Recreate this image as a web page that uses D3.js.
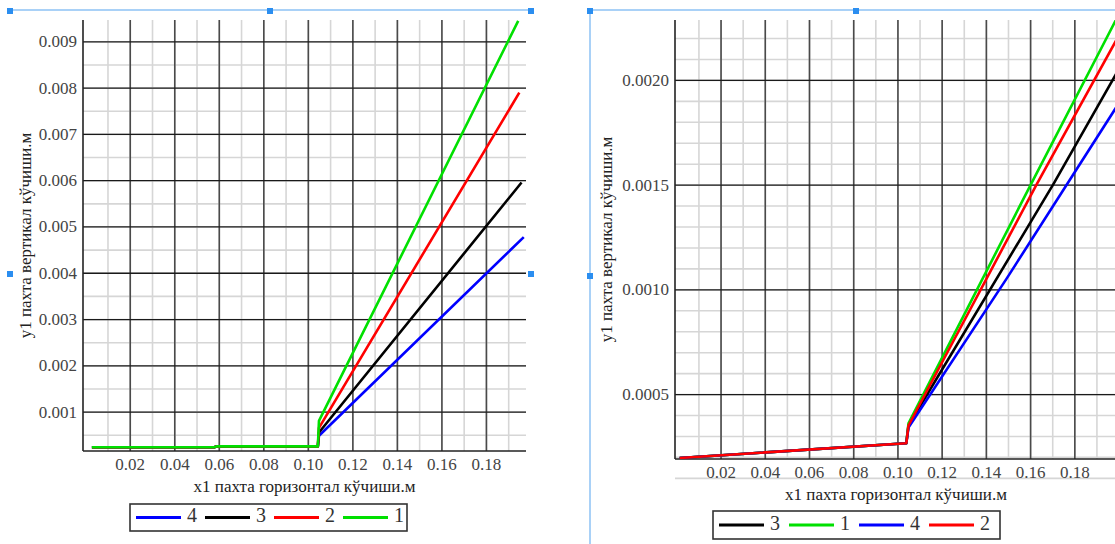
<!DOCTYPE html>
<html lang="ru">
<head>
<meta charset="UTF-8">
<title>y1 / x1 пахта кўчиши</title>
<script src="https://cdnjs.cloudflare.com/ajax/libs/d3/7.8.5/d3.min.js"></script>
<style>
    body { margin: 0; background: #fff; }
    svg { display: block; }
    svg text { font-family: "Liberation Serif", "DejaVu Serif", serif; }
</style>
</head>
<body>
<svg id="chart" width="1115" height="544"></svg>
<script>
// tick labels
const xTicks = [0.02, 0.04, 0.06, 0.08, 0.10, 0.12, 0.14, 0.16, 0.18];
const leftYTicks = [0.001, 0.002, 0.003, 0.004, 0.005, 0.006, 0.007, 0.008, 0.009];
const rightYTicks = [0.0005, 0.0010, 0.0015, 0.0020];

// series colours by legend name
const colors = { "1": "#00e000", "2": "#ff0000", "3": "#000000", "4": "#0000ff" };

// left chart, values: [x1, y1]
const left1 = [[0.003, 0.00023], [0.058, 0.00023], [0.059, 0.00025], [0.1045, 0.00025], [0.105, 0.0008], [0.1945, 0.00944]];
const left2 = [[0.003, 0.00023], [0.058, 0.00023], [0.059, 0.00025], [0.1045, 0.00025], [0.105, 0.00065], [0.195, 0.00789]];
const left3 = [[0.003, 0.00023], [0.058, 0.00023], [0.059, 0.00025], [0.1045, 0.00025], [0.105, 0.00055], [0.196, 0.00595]];
const left4 = [[0.003, 0.00023], [0.058, 0.00023], [0.059, 0.00025], [0.1045, 0.00025], [0.105, 0.00048], [0.197, 0.00477]];

// right chart
const right1 = [[0.0015, 0.000195], [0.104, 0.000265], [0.105, 0.00036], [0.1603, 0.0015], [0.199, 0.00229]];
const right2 = [[0.0015, 0.000195], [0.104, 0.000265], [0.105, 0.00035], [0.1629, 0.0015], [0.199, 0.00219]];
const right3 = [[0.0015, 0.000195], [0.104, 0.000265], [0.105, 0.00035], [0.1704, 0.0015], [0.199, 0.00203]];
const right4 = [[0.0015, 0.000195], [0.104, 0.000265], [0.105, 0.00034], [0.1493, 0.00105], [0.199, 0.00187]];

const xTitle = "x1 пахта горизонтал кўчиши.м";
const yTitle = "y1 пахта вертикал кўчиши.м";
const serif = "'Liberation Serif', 'DejaVu Serif', serif";

const svg = d3.select("#chart");
svg.append("rect").attr("width", 1115).attr("height", 544).attr("fill", "#fff");

function panel(p, id) {
    const x = d3.scaleLinear().domain(p.xDomain).range([p.left, p.right]);
    const y = d3.scaleLinear().domain(p.yDomain).range([p.bottom, p.top]);
    const w = p.right - p.left, h = p.bottom - p.top;
    const g = svg.append("g");

    const xMinor = d3.range(0.01, p.xDomain[1], 0.01);
    const yMinor = d3.range(p.yMinorStep, p.yDomain[1], p.yMinorStep);

    // light grid
    g.append("g").attr("transform", `translate(0,${p.bottom})`)
        .call(d3.axisBottom(x).tickValues(xMinor).tickSize(-h).tickFormat(""))
        .call(a => a.select(".domain").remove())
        .selectAll("line").attr("stroke", "#d6d6d6").attr("stroke-width", 1.6);
    g.append("g").attr("transform", `translate(${p.left},0)`)
        .call(d3.axisLeft(y).tickValues(yMinor).tickSize(-w).tickFormat(""))
        .call(a => a.select(".domain").remove())
        .selectAll("line").attr("stroke", "#d6d6d6").attr("stroke-width", 1.6);

    // main grid with labels
    const gx = g.append("g").attr("transform", `translate(0,${p.bottom})`)
        .call(d3.axisBottom(x).tickValues(xTicks).tickSize(-h).tickPadding(7).tickFormat(d3.format(".2f")))
        .call(a => a.select(".domain").remove());
    gx.selectAll("line").attr("stroke", "#4a4a4a").attr("stroke-width", 1.6);
    const gy = g.append("g").attr("transform", `translate(${p.left},0)`)
        .call(d3.axisLeft(y).tickValues(p.yTicks).tickSize(-w).tickPadding(6).tickFormat(d3.format(p.yFmt)))
        .call(a => a.select(".domain").remove());
    gy.selectAll("line").attr("stroke", "#1a1a1a").attr("stroke-width", 1.3);
    [gx, gy].forEach(a => a.attr("font-family", serif).attr("font-size", 17)
        .selectAll("text").attr("fill", "#444").attr("font-family", serif));

    // axis lines
    g.append("line").attr("x1", p.left).attr("x2", p.left).attr("y1", p.top).attr("y2", p.bottom)
        .attr("stroke", "#222").attr("stroke-width", 1.6);
    g.append("line").attr("x1", p.left).attr("x2", p.right).attr("y1", p.bottom).attr("y2", p.bottom)
        .attr("stroke", "#222").attr("stroke-width", 1.6);

    // curves
    svg.append("clipPath").attr("id", id).append("rect")
        .attr("x", p.left).attr("y", p.top).attr("width", w).attr("height", h);
    const line = d3.line().x(d => x(d[0])).y(d => y(d[1]));
    g.append("g").attr("clip-path", `url(#${id})`)
        .selectAll("path").data(p.series).join("path")
        .attr("d", s => line(s.data))
        .attr("fill", "none")
        .attr("stroke", s => colors[s.name])
        .attr("stroke-width", 2.6)
        .attr("stroke-linejoin", "round");

    // axis titles
    g.append("text").attr("x", (p.left + p.right) / 2).attr("y", p.xTitleY)
        .attr("text-anchor", "middle").attr("dominant-baseline", "middle")
        .attr("font-family", serif).attr("font-size", 17).attr("fill", "#222").text(xTitle);
    g.append("text").attr("transform", `translate(${p.yTitleX},${(p.top + p.bottom) / 2}) rotate(-90)`)
        .attr("text-anchor", "middle").attr("dominant-baseline", "middle")
        .attr("font-family", serif).attr("font-size", 17).attr("fill", "#222").text(yTitle);

    // legend
    const lg = g.append("g").attr("transform", `translate(${p.legend.x},${p.legend.y})`);
    lg.append("rect").attr("width", p.legend.w).attr("height", p.legend.h)
        .attr("fill", "#fff").attr("stroke", "#333").attr("stroke-width", 1.6);
    const item = lg.selectAll("g.item").data(p.series).join("g")
        .attr("transform", (s, i) => `translate(${6 + i * p.legend.step},${p.legend.h / 2})`);
    item.append("line").attr("x1", 0).attr("x2", 45)
        .attr("stroke", s => colors[s.name]).attr("stroke-width", 3);
    item.append("text").attr("x", 51).attr("dominant-baseline", "middle")
        .attr("font-family", serif).attr("font-size", 20).attr("fill", "#333").text(s => s.name);
}

panel({
    left: 83, right: 526, top: 20, bottom: 451,
    xDomain: [-0.001, 0.198], yDomain: [0.00015, 0.00946],
    yTicks: leftYTicks, yMinorStep: 0.0005, yFmt: ".3f",
    xTitleY: 488, yTitleX: 27,
    legend: { x: 130, y: 504, w: 277, h: 27, step: 69 },
    series: [
        { name: "4", data: left4 }, { name: "3", data: left3 },
        { name: "2", data: left2 }, { name: "1", data: left1 }
    ]
}, "clipL");

panel({
    left: 675, right: 1117, top: 20, bottom: 459,
    xDomain: [-0.0006, 0.1993], yDomain: [0.00019, 0.002286],
    yTicks: rightYTicks, yMinorStep: 0.0001, yFmt: ".4f",
    xTitleY: 496, yTitleX: 608,
    legend: { x: 713, y: 511, w: 287, h: 28, step: 70 },
    series: [
        { name: "3", data: right3 }, { name: "1", data: right1 },
        { name: "4", data: right4 }, { name: "2", data: right2 }
    ]
}, "clipR");

// selection frames round the two pictures
const frame = svg.append("g");
frame.append("line").attr("x1", 10).attr("x2", 532).attr("y1", 10).attr("y2", 10)
    .attr("stroke", "#8cc2f5").attr("stroke-width", 1.5);
frame.append("line").attr("x1", 590).attr("x2", 1115).attr("y1", 10).attr("y2", 10)
    .attr("stroke", "#8cc2f5").attr("stroke-width", 1.5);
frame.append("line").attr("x1", 590).attr("x2", 590).attr("y1", 10).attr("y2", 544)
    .attr("stroke", "#8cc2f5").attr("stroke-width", 1.5);
const handles = [[10, 11], [270, 11], [531, 11], [10, 274], [531, 274], [590, 11], [856, 11], [590, 276]];
frame.selectAll("rect").data(handles).join("rect")
    .attr("x", d => d[0] - 3).attr("y", d => d[1] - 3).attr("width", 6).attr("height", 6)
    .attr("fill", "#2b8ef0");
</script>
</body>
</html>
